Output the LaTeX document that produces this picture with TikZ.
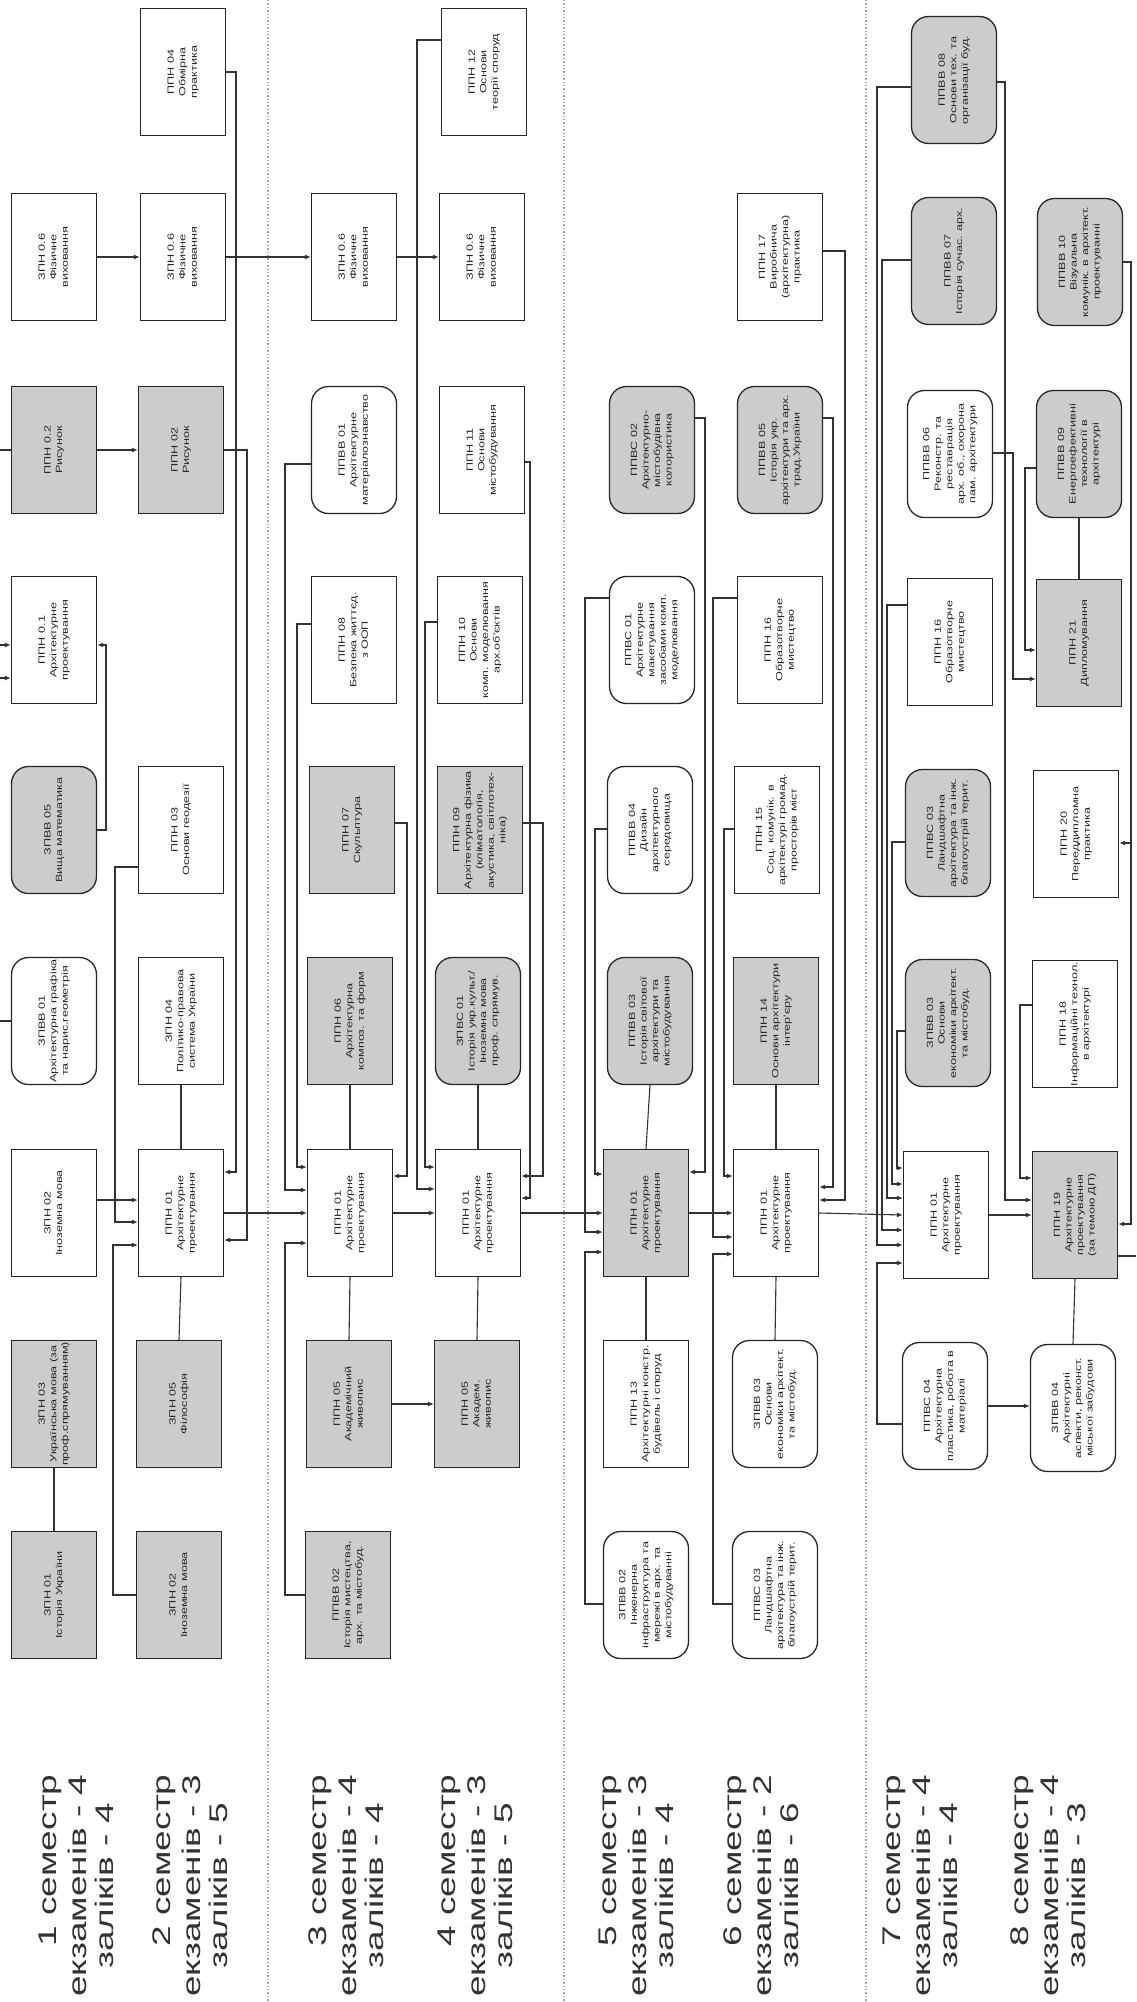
\documentclass[tikz,border=0pt]{standalone}
\usepackage{fontspec}
\usepackage{graphicx}
\usetikzlibrary{arrows.meta}
\setmainfont{Liberation Sans}
\newfontfamily\boxfam[FakeStretch=1.4]{Liberation Sans}
\newfontfamily\labfam[FakeStretch=1.45]{Liberation Sans}
\newcommand\boxfont{\boxfam\fontsize{9}{11.5}\selectfont}
\newcommand\labfont{\labfam\fontsize{25.5}{28}\selectfont}
\newcommand\rt[1]{\rotatebox{90}{\begin{tabular}{@{}c@{}}#1\end{tabular}}}
\newcommand\semlabel[5]{%
  \node[lab, anchor=west] (#1b) at (#2,1997) {екзаменів - #4};
  \node[lab, anchor=east] (#1a) at ([xshift=-27pt]#1b.east) {#3 семестр};
  \node[lab] (#1c) at ([xshift=27pt]#1b.center) {заліків - #5};}
\begin{document}
\begin{tikzpicture}[x=1pt,y=-1pt,
  box/.style={draw=black!85, line width=1.3pt, fill=white, minimum width=85pt, minimum height=127pt, inner sep=0pt, font=\boxfont, text=black!85},
  gbox/.style={box, fill=black!20},
  rbox/.style={box, rounded corners=17pt},
  rgbox/.style={rbox, fill=black!20},
  con/.style={draw=black!80, line width=1.1pt},
  arr/.style={con, -{Latex[length=6pt,width=5pt]}},
  sep/.style={draw=black!35, line width=1.4pt, dotted},
  lab/.style={rotate=90, inner sep=0pt, font=\labfont, text=black!80}]
\useasboundingbox (0,0) rectangle (1136,2002);
\fill[white] (0,0) rectangle (1136,2002);
% separators
\draw[sep] (268,0) -- (268,2002);
\draw[sep] (564,0) -- (564,2002);
\draw[sep] (866,0) -- (866,2002);
% semester labels
\semlabel{lA}{77}{1}{4}{4}
\semlabel{lB}{191}{2}{3}{5}
\semlabel{lC}{347}{3}{4}{4}
\semlabel{lD}{476}{4}{3}{5}
\semlabel{lE}{637}{5}{3}{4}
\semlabel{lF}{762}{6}{2}{6}
\semlabel{lG}{921}{7}{4}{4}
\semlabel{lH}{1049}{8}{4}{3}
% semester 1
\node[box]   (s1pe)  at (54,257)  {\rt{ЗПН 0.6\\Фізичне\\виховання}};
\node[gbox]  (s1ris) at (54,450)  {\rt{ППН 0.2\\Рисунок}};
\node[box]   (s1ap)  at (54,640)  {\rt{ППН 0.1\\Архітектурне\\проектування}};
\node[rgbox] (s1vm)  at (54,830)  {\rt{ЗПВВ 05\\Вища математика}};
\node[rbox]  (s1ag)  at (54,1021) {\rt{ЗПВВ 01\\Архітектурна графіка\\та нарис.геометрія}};
\node[box]   (s1im)  at (54,1213) {\rt{ЗПН 02\\Іноземна мова}};
\node[gbox]  (s1um)  at (54,1404) {\rt{ЗПН 03\\Українська мова (за\\проф.спрямуванням)}};
\node[gbox]  (s1iu)  at (54,1595) {\rt{ЗПН 01\\Історія України}};
% semester 2
\node[box]   (s2op)  at (183,72)   {\rt{ППН 04\\Обмірна\\практика}};
\node[box]   (s2pe)  at (183,257)  {\rt{ЗПН 0.6\\Фізичне\\виховання}};
\node[gbox]  (s2ris) at (181,450)  {\rt{ППН 02\\Рисунок}};
\node[box]   (s2geo) at (181,830)  {\rt{ППН 03\\Основи геодезії}};
\node[box]   (s2pps) at (181,1021) {\rt{ЗПН 04\\Політико-правова\\система України}};
\node[box]   (s2ap)  at (181,1213) {\rt{ППН 01\\Архітектурне\\проектування}};
\node[gbox]  (s2fil) at (179,1404) {\rt{ЗПН 05\\Філософія}};
\node[gbox]  (s2im)  at (179,1595) {\rt{ЗПН 02\\Іноземна мова}};
% semester 3
\node[box]   (s3pe)   at (354,257)  {\rt{ЗПН 0.6\\Фізичне\\виховання}};
\node[rbox]  (s3mat)  at (354,450)  {\rt{ППВВ 01\\Архітектурне\\матеріалознавство}};
\node[box]   (s3bzh)  at (354,640)  {\rt{ППН 08\\Безпека життєд.\\з ООП}};
\node[gbox]  (s3skl)  at (352,830)  {\rt{ППН 07\\Скульптура}};
\node[gbox]  (s3komp) at (350,1021) {\rt{ППН 06\\Архітектурна\\композ. та форм}};
\node[box]   (s3ap)   at (350,1213) {\rt{ППН 01\\Архітектурне\\проектування}};
\node[gbox]  (s3zh)   at (349,1404) {\rt{ППН 05\\Академічний\\живопис}};
\node[gbox]  (s3ist)  at (348,1595) {\rt{ППВВ 02\\Історія мистецтва,\\арх. та містобуд.}};
% semester 4
\node[box]   (s4tsp)  at (484,72)   {\rt{ППН 12\\Основи\\теорії споруд}};
\node[box]   (s4pe)   at (482,257)  {\rt{ЗПН 0.6\\Фізичне\\виховання}};
\node[box]   (s4mb)   at (482,450)  {\rt{ППН 11\\Основи\\містобудування}};
\node[box]   (s4km)   at (480,640)  {\rt{ППН 10\\Основи\\комп. моделювання\\арх.об'єктів}};
\node[gbox]  (s4fiz)  at (480,830)  {\rt{ППН 09\\Архітектурна фізика\\(кліматологія,\\акустика, світлотех-\\ніка)}};
\node[rgbox] (s4zpvs) at (478,1021) {\rt{ЗПВС 01\\Історія укр.культ./\\Іноземна мова\\проф. спрямув.}};
\node[box]   (s4ap)   at (478,1213) {\rt{ППН 01\\Архітектурне\\проектування}};
\node[gbox]  (s4zh)   at (477,1404) {\rt{ППН 05\\Академ.\\живопис}};
% semester 5
\node[rgbox] (s5kol)  at (652,450)  {\rt{ППВС 02\\Архітектурно-\\містобудівна\\колористика}};
\node[rbox]  (s5mak)  at (652,640)  {\rt{ППВС 01\\Архітектурне\\макетування\\засобами комп.\\моделювання}};
\node[rbox]  (s5diz)  at (650,830)  {\rt{ППВВ 04\\Дизайн\\архітектурного\\середовища}};
\node[rgbox] (s5ist)  at (650,1021) {\rt{ППВВ 03\\Історія світової\\архітектури та\\містобудування}};
\node[gbox]  (s5ap)   at (646,1213) {\rt{ППН 01\\Архітектурне\\проектування}};
\node[box]   (s5kon)  at (646,1404) {\rt{ППН 13\\Архітектурні констр.\\будівель і споруд}};
\node[rbox]  (s5inzh) at (646,1595) {\rt{ЗПВВ 02\\Інженерна\\інфраструктура та\\мережі в арх. та\\містобудуванні}};
% semester 6
\node[box]   (s6vp)   at (780,257)  {\rt{ППН 17\\Виробнича\\(архітектурна)\\практика}};
\node[rgbox] (s6iua)  at (780,450)  {\rt{ППВВ 05\\Історія укр.\\архітектури та арх.\\трад.України}};
\node[box]   (s6obr)  at (780,640)  {\rt{ППН 16\\Образотворче\\мистецтво}};
\node[box]   (s6soc)  at (777,830)  {\rt{ППН 15\\Соц. комунік. в\\архітектурі громад.\\просторів міст}};
\node[gbox]  (s6int)  at (776,1021) {\rt{ППН 14\\Основи архітектури\\інтер'єру}};
\node[box]   (s6ap)   at (776,1213) {\rt{ППН 01\\Архітектурне\\проектування}};
\node[rbox]  (s6ek)   at (775,1404) {\rt{ЗПВВ 03\\Основи\\економіки архітект.\\та містобуд.}};
\node[rbox]  (s6land) at (775,1595) {\rt{ППВС 03\\Ландшафтна\\архітектура та інж.\\благоустрій терит.}};
% semester 7
\node[rgbox] (s7org)  at (954,80)   {\rt{ППВВ 08\\Основи тех. та\\організації буд.}};
\node[rgbox] (s7suc)  at (954,261)  {\rt{ППВВ 07\\Історія сучас. арх.}};
\node[rbox]  (s7rek)  at (950,454)  {\rt{ППВВ 06\\Реконстр. та\\реставрація\\арх. об., охорона\\пам. архітектури}};
\node[box]   (s7obr)  at (950,642)  {\rt{ППН 16\\Образотворче\\мистецтво}};
\node[rgbox] (s7land) at (948,833)  {\rt{ППВС 03\\Ландшафтна\\архітектура та інж.\\благоустрій терит.}};
\node[rgbox] (s7ek)   at (948,1023) {\rt{ЗПВВ 03\\Основи\\економіки архітект.\\та містобуд.}};
\node[box]   (s7ap)   at (946,1215) {\rt{ППН 01\\Архітектурне\\проектування}};
\node[rbox]  (s7pl)   at (945,1406) {\rt{ППВС 04\\Архітектурна\\пластика, робота в\\матеріалі}};
% semester 8
\node[rgbox] (s8viz)  at (1080,262)  {\rt{ППВВ 10\\Візуальна\\комунік. в архітект.\\проектуванні}};
\node[rgbox] (s8en)   at (1079,454)  {\rt{ППВВ 09\\Енергоефективні\\технології в\\архітектурі}};
\node[gbox]  (s8dyp)  at (1079,643)  {\rt{ППН 21\\Дипломування}};
\node[box]   (s8pd)   at (1076,834)  {\rt{ППН 20\\Переддипломна\\практика}};
\node[box]   (s8it)   at (1075,1024) {\rt{ППН 18\\Інформаційні технол.\\в архітектурі}};
\node[gbox]  (s8ap)   at (1075,1215) {\rt{ППН 19\\Архітектурне\\проектування\\(за темою ДП)}};
\node[rbox]  (s8asp)  at (1073,1408) {\rt{ЗПВВ 04\\Архітектурні\\аспекти, реконст.\\міської забудови}};
% free ends at the page edge
\coordinate (eL1) at (0,450);
\coordinate (eL2) at (0,645);
\coordinate (eL3) at (0,678);
\coordinate (eL4) at (0,1021);
\coordinate (eR1) at (1136,1256);
\coordinate (br8) at (1131,843);
% connectors semester 1
\draw[con] (eL1) -- (s1ris.west);
\draw[arr] (eL2) -- (s1ap.west |- eL2);
\draw[arr] (eL3) -- (s1ap.west |- eL3);
\draw[con] (s1ag.west) -- (eL4);
\draw[arr] (s1pe.east) -- (s2pe.west |- s1pe.east);
\draw[arr] (s1ris.east) -- (s2ris.west);
\draw[arr] (s1vm.east) -| (106,645) -- (s1ap.east |- 0,645);
\draw[arr] (s1im.east |- 0,1200) -- (s2ap.west |- 0,1200);
\draw[con] (s1um.south) -- (s1iu.north);
% semester 2
\draw[arr] (s2op.east) -| (236,1172) -- (s2ap.east |- 0,1172);
\draw[arr] (s2ris.east) -| (247,1240) -- (s2ap.east |- 0,1240);
\draw[arr] (s2geo.west |- 0,867) -| (115,1222) -- (s2ap.west |- 0,1222);
\draw[arr] (s2im.west) -| (113,1245) -- (s2ap.west |- 0,1245);
\draw[con] (s2pps.south) -- (s2ap.north);
\draw[con] (s2ap.south) -- (s2fil.north);
\draw[arr] (s2ap.east) -- (s3ap.west);
\draw[arr] (s2pe.east) -- (s3pe.west);
% semester 3
\draw[arr] (s3mat.west |- 0,464) -| (285,1190) -- (s3ap.west |- 0,1190);
\draw[arr] (s3bzh.west |- 0,624) -| (297,1167) -- (s3ap.west |- 0,1167);
\draw[arr] (s3ist.west) -| (285,1243) -- (s3ap.west |- 0,1243);
\draw[arr] (s3skl.east |- 0,823) -| (407,1176) -- (s3ap.east |- 0,1176);
\draw[con] (s3komp.south) -- (s3ap.north);
\draw[con] (s3ap.south) -- (s3zh.north);
\draw[arr] (s3ap.east) -- (s4ap.west);
\draw[arr] (s3zh.east) -- (s4zh.west);
\draw[arr] (s3pe.east) -- (s4pe.west);
% semester 4
\draw[arr] (s4tsp.west |- 0,40) -| (417,1189) -- (s4ap.west |- 0,1189);
\draw[arr] (s4km.west |- 0,622) -| (425,1167) -- (s4ap.west |- 0,1167);
\draw[arr] (s4mb.east |- 0,462) -| (530,1198) -- (s4ap.east |- 0,1198);
\draw[arr] (s4fiz.east |- 0,823) -| (543,1176) -- (s4ap.east |- 0,1176);
\draw[con] (s4zpvs.south) -- (s4ap.north);
\draw[con] (s4ap.south) -- (s4zh.north);
\draw[arr] (s4ap.east) -- (s5ap.west);
% semester 5
\draw[arr] (s5kol.east |- 0,418) -| (705,1172) -- (s5ap.east |- 0,1172);
\draw[arr] (s5mak.west |- 0,598) -| (585,1232) -- (s5ap.west |- 0,1232);
\draw[arr] (s5diz.west |- 0,829) -| (595,1174) -- (s5ap.west |- 0,1174);
\draw[arr] (s5inzh.west |- 0,1604) -| (585,1252) -- (s5ap.west |- 0,1252);
\draw[con] (s5ist.south) -- (s5ap.north);
\draw[con] (s5ap.south) -- (s5kon.north);
\draw[arr] (s5ap.east) -- (s6ap.west);
% semester 6
\draw[arr] (s6vp.east |- 0,251) -| (845,1200) -- (s6ap.east |- 0,1200);
\draw[arr] (s6iua.east |- 0,418) -| (833,1187) -- (s6ap.east |- 0,1187);
\draw[arr] (s6obr.west |- 0,598) -| (713,1237) -- (s6ap.west |- 0,1237);
\draw[arr] (s6soc.west |- 0,829) -| (724,1176) -- (s6ap.west |- 0,1176);
\draw[arr] (s6land.west |- 0,1604) -| (713,1254) -- (s6ap.west |- 0,1254);
\draw[con] (s6int.south) -- (s6ap.north);
\draw[con] (s6ap.south) -- (s6ek.north);
\draw[arr] (s6ap.east) -- (s7ap.west);
% semester 7
\draw[arr] (s7ek.west |- 0,1031) -| (897,1168) -- (s7ap.west |- 0,1168);
\draw[arr] (s7land.west |- 0,842) -| (892,1184) -- (s7ap.west |- 0,1184);
\draw[arr] (s7obr.west |- 0,605) -| (887,1198) -- (s7ap.west |- 0,1198);
\draw[arr] (s7suc.west |- 0,260) -| (882,1230) -- (s7ap.west |- 0,1230);
\draw[arr] (s7org.west |- 0,87) -| (877,1245) -- (s7ap.west |- 0,1245);
\draw[arr] (s7pl.west |- 0,1424) -| (877,1263) -- (s7ap.west |- 0,1263);
\draw[arr] (s7rek.east |- 0,453) -| (1013,679) -- (s8dyp.west |- 0,679);
\draw[arr] (s8en.west |- 0,468) -| (1025,650) -- (s8dyp.west |- 0,650);
\draw[con, line width=2.4pt] (s8en.south) -- (s8dyp.north);
\draw[arr] (s7org.east |- 0,82) -| (1005,1200) -- (s8ap.west |- 0,1200);
\draw[arr] (s8it.west |- 0,1005) -| (1020,1178) -- (s8ap.west |- 0,1178);
\draw[arr] (s7ap.east) -- (s8ap.west);
\draw[arr] (s7pl.east) -- (s8asp.west |- s7pl.east);
% semester 8
\draw[arr] (s8viz.east) -| (1131,1224) -- (s8ap.east |- 0,1224);
\draw[arr] (br8) -- (s8pd.east |- br8);
\draw[con] (s8ap.east |- eR1) -- (eR1);
\draw[con] (s8ap.south) -- (s8asp.north);
\end{tikzpicture}
\end{document}
